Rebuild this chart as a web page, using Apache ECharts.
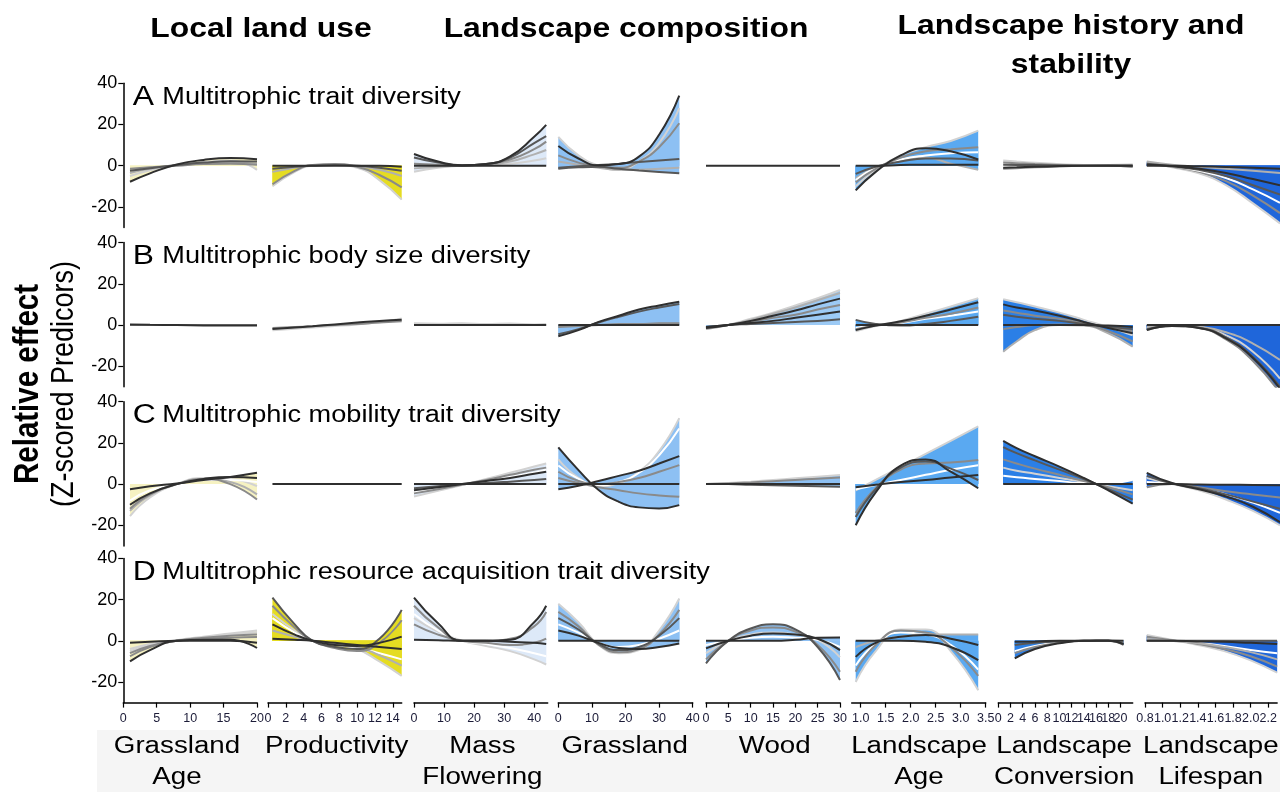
<!DOCTYPE html>
<html><head><meta charset="utf-8">
<script src="https://cdn.jsdelivr.net/npm/echarts@6/dist/echarts.min.js"></script>
<style>html,body{margin:0;padding:0;background:#fff}#c{width:1280px;height:792px}</style>
</head><body><div id="c"></div>
<script>
// ---------- predictor sample positions (x) ----------
const X_GRASS_AGE = [1, 4, 8, 12, 16, 20];
const X_PROD      = [0.5, 3, 5, 7.5, 10, 12.5, 15];
const X_MASSFLOW  = [0, 8, 16, 24, 32, 40, 44];
const X_GRASSLAND = [0, 6, 12, 18, 24, 30, 36];
const X_WOOD      = [0, 5, 10, 15, 20, 25, 30];
const X_LAND_AGE  = [0.9, 1.3, 1.8, 2.3, 2.8, 3.35];
const X_CONV      = [0.8, 3, 6, 10, 14, 18, 22];
const X_CONV_D    = [2.7, 6, 10, 14, 18, 20.5];
const X_LIFESPAN  = [0.82, 1.1, 1.4, 1.7, 2.0, 2.3];

// ---------- tick labels ----------
const T_GRASS_AGE = [0, 5, 10, 15, 20];
const T_PROD      = [0, 2, 4, 6, 8, 10, 12, 14];
const T_MASSFLOW  = [0, 10, 20, 30, 40];
const T_GRASSLAND = [0, 10, 20, 30, 40];
const T_WOOD      = [0, 5, 10, 15, 20, 25, 30];
const T_LAND_AGE  = [1.0, 1.5, 2.0, 2.5, 3.0, 3.5];
const T_CONV      = [0, 2, 4, 6, 8, 10, 12, 14, 16, 18, 20, 22];
const T_LIFESPAN  = [0.8, 1.0, 1.2, 1.4, 1.6, 1.8, 2.0, 2.2];
const T_Y         = [-20, 0, 20, 40];

// ---------- texts ----------
const GROUPS = ['Local land use', 'Landscape composition', 'Landscape history and', 'stability'];
const ROW_LETTERS = ['A', 'B', 'C', 'D'];
const ROW_TITLES = ['Multitrophic trait diversity', 'Multitrophic body size diversity',
  'Multitrophic mobility trait diversity', 'Multitrophic resource acquisition trait diversity'];
const X_NAMES = [['Grassland', 'Age'], ['Productivity'], ['Mass', 'Flowering'], ['Grassland'], ['Wood'],
  ['Landscape', 'Age'], ['Landscape', 'Conversion'], ['Landscape', 'Lifespan']];
const Y_TITLE = 'Relative effect';
const Y_SUB = '(Z-scored Predicors)';

// ---------- relative effect curves (one array per curve) ----------
// Row A: trait diversity
const A1 = [[-5, -2.2, 0.3, 1.8, 2.5, -2.0], [-3.5, -1.5, 0.2, 1.2, 1.5, 1.0], [-1.5, -0.8, 0, 0.8, 1.0, 0.5],
  [-2.5, -1.2, 0.3, 1.5, 2.2, 2.0], [-7.8, -3.7, 0.6, 2.8, 3.7, 3.1]];
const A2 = [[-10, -3, 0, 0.5, -1, -7, -16.5], [-3, -1, 0.2, 0.5, -0.2, -2, -5], [-9, -2.5, 0.3, 0.8, -0.5, -4.5, -10.5],
  [-1.5, -0.5, 0, 0.3, 0, -1, -2.5], [0, 0, 0, 0, 0, 0, -0.5]];
const A3 = [[-2.9, -1, 0, 0.3, 1, 2.5, 3.6], [-1.3, -0.5, 0, 0.5, 2, 5.5, 7.6], [1, 0.5, 0, 0.8, 3, 8, 11.7],
  [4, 1.5, 0.1, 0.8, 4, 11, 14.4], [5.7, 2.0, 0.2, 0.8, 4.5, 14, 19.8], [0, 0, 0, 0, 0, 0, 0]];
const A4 = [[14, 5, 0, -2, 2, 11, 28], [2, 0.5, -1, -2, -2, -1.5, -1], [5, 1.5, -0.5, -1, 2, 9, 20.6],
  [-1, -0.3, 0.3, 1, 1.8, 2.5, 3.2], [-1.5, -0.8, -0.5, -1.5, -2.3, -3, -3.7], [9.6, 3.5, 0.2, 0.8, 4.4, 15, 34]];
const A5 = [[0, 0, 0, 0, 0, 0, 0]];
const A6 = [[-10, -2, 5, 9, 12, 17], [-6, -1, 2.5, 4, 1, -2], [-7, -1, 3, 5, 6, 6.5], [-8, -1.5, 4, 7, 8, 9],
  [-4, -0.5, 2, 3.5, 3.5, 2.5], [0, 0, 0.3, 0.5, 0.5, 0.5], [-12, -3, 5, 8.5, 7, 3]];
const A7 = [[2.5, 2, 1.4, 0.8, 0.3, 0, 0], [1.5, 1.2, 0.8, 0.4, 0.1, 0, -0.5], [-1.5, -1.2, -0.8, -0.4, 0, 0.3, 0.5],
  [0.5, 0.4, 0.3, 0.1, 0, 0, -0.3], [-1, -0.8, -0.5, -0.2, 0, 0, 0]];
const A8 = [[1.5, -0.8, -3.7, -9.4, -18.3, -28], [2, 0.5, -0.5, -1.5, -2.5, -3.5], [1, -0.5, -3, -7.5, -14.5, -23],
  [0.5, -0.3, -2.5, -6, -11.5, -18], [1, -0.3, -2, -5, -9.5, -14], [0.5, -0.2, -1.5, -3.5, -6.5, -9.5],
  [0, 0, -0.3, -0.6, -1, -1.5]];
// Row B: body size diversity
const B1 = [[0, 0, 0, 0, 0, 0], [0.2, 0.1, 0, -0.2, -0.3, -0.3]];
const B2 = [[-2.5, -1.8, -1.2, -0.5, 0.3, 1.3, 3.2], [-1.5, -1, -0.6, 0, 0.5, 1.2, 1.8], [-2, -1.2, -0.6, 0.3, 1.2, 2, 2.6]];
const B3 = [[0.8, 0.6, 0.8, 0.5, 0.7, 0.3, 0.5], [0, 0, 0, 0, 0, 0, 0]];
const B4 = [[-1, -0.5, 0, 0.5, 0.5, 0.8, 0.8], [-4.5, -2, 1.2, 4, 6.5, 8.5, 10.2], [0, 0, 0, 0, 0, 0, 0],
  [-5.5, -2.5, 1.5, 4.5, 7.5, 9.5, 11.3]];
const B5 = [[-2, 0, 3, 6, 9.5, 13, 17], [-2, 0, 2.5, 5.5, 8.5, 12, 15.5], [-1.5, 0, 1.5, 3.5, 5, 7.5, 9.7],
  [-1, 0, 0.5, 1, 1.5, 2, 2.8], [-1.5, 0, 2, 4.5, 7, 10, 12.8], [-1, 0, 1, 2, 3.5, 5, 6.5]];
const B6 = [[-3, -0.5, 2, 5.5, 9, 13], [-1.5, 0, 1, 3, 4.5, 6.5], [-2, -0.3, 1.2, 3.5, 5.5, 8.5],
  [2.5, 0.5, -0.3, 0.5, 2, 4], [-2.5, -0.3, 1.8, 4.5, 7.5, 11], [0, 0, 0, 0, 0, 0]];
const B7 = [[12.5, 11, 9, 6, 2.5, -1, -5], [-13, -8, -2.5, 0, -0.3, -4, -10.5], [7, 6, 4.5, 3, 1, -1, -3],
  [-2, -1, 0, 0.3, 0, -3, -8], [5, 4, 3, 2, 0.5, -0.8, -2], [10, 8.5, 7, 4.5, 1.5, -1.5, -4], [0, 0, 0, 0, 0, -0.3, -1]];
const B8 = [[-1.5, 0, -1, -5, -13, -26], [-1, 0, -0.8, -3.5, -9, -17], [-2.4, -0.5, -1.5, -7, -17.5, -33],
  [-2, -0.3, -1.3, -6, -15.5, -30], [-2.5, -0.5, -1.5, -6.5, -16, -31], [0, 0, 0, 0, 0, 0]];
// Row C: mobility trait diversity
const C1 = [[-15.5, -6.5, 0, 3, 2.5, -1], [-8, -3, 0, 2, 2, 1], [-13, -5.5, 0, 2.5, 1, -5],
  [-12, -5, 0, 2.5, 0, -7.5], [-10, -4.5, 0, 2.5, 3.5, 3], [-2.5, -1, 0.3, 2, 3.5, 5.5]];
const C2 = [[0, 0, 0, 0, 0, 0, 0]];
const C3 = [[-6, -3.3, -0.5, 2.5, 5.5, 8.5, 10], [-4, -2, -0.2, 1.5, 3.5, 5.5, 7], [-4.5, -2.5, -0.3, 2, 4.5, 7, 8],
  [-2, -1, 0, 0.5, 1.2, 2, 2.5], [-3, -1.5, 0, 1.5, 3, 5, 6], [0, 0, 0, 0, 0, 0, 0]];
const C4 = [[12, 3, -1, 0.5, 6, 16, 32], [9, 2.5, -0.5, 1, 5.5, 14, 27], [6, 1.5, 0, 1, 3, 6, 9.2],
  [3, 0.5, -1.5, -3, -4.5, -5.5, -6.2], [-2.5, -0.8, 1.5, 4, 6.5, 10, 13.6], [0, 0, 0, 0, 0, 0, 0],
  [17.8, 6.8, -2.9, -8.6, -11.3, -11.8, -10.2]];
const C5 = [[0, 0.5, 1.2, 2, 2.8, 3.6, 4.4], [0, 0.3, 0.8, 1.4, 2, 2.6, 3.2], [0, 0, -0.3, -0.5, -0.8, -1, -1.3],
  [0, 0, 0, 0, 0, 0, 0]];
const C6 = [[-3, 2, 8.4, 14.7, 21, 28], [-2.5, -0.5, 2, 4.5, 7, 9.2], [-14, -2, 7, 10, 10.5, 11.7],
  [-16, -2.5, 8, 11, 7.5, 2], [-1.5, -0.3, 1, 2, 3.2, 4.4], [-20, -4, 9, 12, 6, -2]];
const C7 = [[8, 6.5, 5, 3, 1, -1, -3], [4, 3.3, 2.5, 1.5, 0.5, 0.5, 2], [12, 10, 7.5, 4.5, 1.5, -1.5, -5],
  [18, 15, 11.5, 7, 2.5, -2.5, -7.5], [21, 17.5, 13.5, 8.5, 3, -3, -9.5], [0, 0, 0, 0, 0, 0, 0]];
const C8 = [[3, 0, -3, -7.5, -13, -20], [1, 0, -2, -5, -9, -14], [-1.5, 0, -1.5, -3.5, -5, -6.5],
  [4, 0.3, -2, -5, -8.5, -12], [5.5, 0.5, -2.5, -6, -11, -18.5], [0, 0, -0.2, -0.3, -0.4, -0.5]];
// Row D: resource acquisition trait diversity
const D1 = [[-5, -2, 0.3, 2, 3.5, 5], [-4, -1.5, 0.2, 1.5, 3, 4], [-7.5, -3, 0, 1.5, 2.5, 3],
  [-6, -2.5, 0, 1, 1.5, 1.8], [-1, -0.5, 0, 0, 0, -1], [-10, -4.5, 0, 0.5, 0.5, -3.5]];
const D2 = [[13, 5, 0, -1.5, -4, -10, -17], [11, 4, 0, -2, -3.5, -6, -9], [5, 2, 0, -1.5, -3, -7, -12],
  [17, 6.5, 0, -3.5, -5, -1, 10], [21, 8, 0, -3, -4, 1, 15], [1, 0.5, 0, -1, -2, -3, -4], [8, 3, 0, -2, -2.5, -1, 2]];
const D3 = [[11, 4.5, 0, -2.5, -5, -9, -11.5], [13, 5, 0, -1.5, -3.5, -6, -7.5], [8, 3, 0, -1, -2, -1, 1],
  [17, 6.5, 0, 0, 1, 7, 14], [0.5, 0.3, 0, 0, -0.5, -1, -1.5], [21, 8.5, 0, 0, 0.5, 9, 17]];
const D4 = [[18, 9, -2, -6, -4.5, 5, 20.5], [8, 4, -1, -3, -2, 1, 5], [14, 7, -2, -5.5, -4, 3, 15],
  [11, 5.5, -1.5, -4.5, -3, 2.5, 11], [0, 0, 0, 0, 0, 0, 0], [5, 2.5, -1, -3.5, -4, -3, -1.3]];
const D5 = [[-6, 0, 3, 4, 3, 0.5, -8], [-2, 0, 1.5, 2, 1.5, 0.5, -3], [-9, 0, 5, 6.5, 4.5, -2, -15],
  [-11, 0, 6, 8, 5.5, -3, -19], [0, 0, 0, 0, 0.5, 1.5, 1.6], [-3.7, 0, 2.5, 3.5, 3, 1, -4.5]];
const D6 = [[-20, -5, 5.5, 5.5, -5, -24], [-12, -1.5, 4, 3, -2, -14], [-15, -2, 5, 4, -3, -17],
  [-3, 0, 2, 3, 3, 3], [0, 0, 0, -0.5, -3, -9.4], [-7.8, -1, 2, 2.8, 1, -2]];
const D7 = [[-5, -2.5, -0.8, 0, 0, -0.5], [-6, -3, -1, 0, 0, -1], [-2, -1, -0.3, 0, 0, -2],
  [-0.5, -0.3, 0, 0, 0.2, 0], [-8.5, -4, -1.2, 0, 0, -1.5]];
const D8 = [[2.8, 0.5, -2, -5, -9.5, -15.5], [0.5, 0, -1, -2.5, -4.5, -6], [2, 0.3, -1.5, -4, -7.5, -12.5],
  [1, 0, -1.2, -3, -5.5, -9], [0, 0, 0, 0, 0, 0], [0, 0, -0.3, -0.5, -1, -1.5]];

// ---------- styles (kept apart from the data) ----------
const TONE = {k: '#2f2f2f', d: '#575757', g: '#8a8a8a', l: '#b0b0b0', L: '#d2d2d2', w: '#ffffff'};
const TONES = [
  ['Llgdk', 'Llgdk', 'Llgdkk', 'Llgddk', 'k', 'Llwgdkk', 'Lggdk', 'Llgwdkk'],
  ['gk', 'Lgk', 'Lk', 'gdkk', 'Llgdkk', 'Lwgdkk', 'Llggdkk', 'Llgdkk'],
  ['Lwlgkk', 'k', 'Lwgdkk', 'Lwggkkk', 'Lgdk', 'Lwgdkk', 'Lwgdkk', 'Lwgdkk'],
  ['LLggkk', 'Lwlgdkk', 'Lwggkk', 'Lwgdkk', 'Lwgdkk', 'Lwglkk', 'wgdkk', 'Lwgldk']
];
const PY = '#f6f2c2', YE = '#e5dc22', PB = '#dde9f8', MB = '#8dc0f3', BL = '#5aa9f1', SB = '#2b7fe6', DB = '#1f66da';
const FILLS = [
  [PY, YE, PB, MB, null, BL, null, DB],
  [null, null, PB, MB, '#9ccaf5', BL, SB, DB],
  [PY, null, PB, MB, MB, BL, SB, DB],
  [PY, YE, PB, MB, MB, BL, SB, DB]
];

// ---------- layout ----------
const COLS = [
  {l: 123.3, r: 257, min: 0, max: 20, xs: X_GRASS_AGE, t: T_GRASS_AGE, dec: 0},
  {l: 268, r: 401.7, min: 0, max: 15, xs: X_PROD, t: T_PROD, dec: 0},
  {l: 414, r: 547.7, min: 0, max: 44.5, xs: X_MASSFLOW, t: T_MASSFLOW, dec: 0},
  {l: 558.3, r: 692.7, min: 0, max: 40, xs: X_GRASSLAND, t: T_GRASSLAND, dec: 0},
  {l: 706, r: 840, min: 0, max: 30, xs: X_WOOD, t: T_WOOD, dec: 0},
  {l: 851.7, r: 985.7, min: 0.82, max: 3.5, xs: X_LAND_AGE, t: T_LAND_AGE, dec: 1},
  {l: 998.3, r: 1132.7, min: 0, max: 22, xs: X_CONV, t: T_CONV, dec: 0},
  {l: 1145, r: 1280, min: 0.8, max: 2.3, xs: X_LIFESPAN, t: T_LIFESPAN, dec: 1}
];
const ROW_TOP = [83.3, 242.6, 401.7, 558.4];
const GRID_H = 144.2;
const PANELS = [[A1, A2, A3, A4, A5, A6, A7, A8], [B1, B2, B3, B4, B5, B6, B7, B8],
  [C1, C2, C3, C4, C5, C6, C7, C8], [D1, D2, D3, D4, D5, D6, D7, D8]];
const X_OVERRIDE = {'3-6': X_CONV_D};

const FONT = '"Liberation Sans", Arial, sans-serif';
const SX = 1.18;

const grids = [], xAxes = [], yAxes = [], series = [];
PANELS.forEach((row, r) => {
  row.forEach((curves, c) => {
    const col = COLS[c];
    const g = grids.length;
    grids.push({left: col.l, top: ROW_TOP[r], width: col.r - col.l, height: GRID_H, containLabel: false});
    const lastRow = r === 3;
    xAxes.push({
      gridIndex: g, type: 'value', min: col.min, max: col.max, show: lastRow,
      axisLine: {show: true, onZero: false, lineStyle: {color: '#000', width: 1.5}},
      axisTick: {show: true, length: 5, customValues: col.t, lineStyle: {color: '#000', width: 1.2}},
      axisLabel: {customValues: col.t, fontSize: 12.5, fontFamily: FONT, color: '#1c1c38', margin: 9,
        formatter: v => col.dec ? Number(v).toFixed(col.dec) : String(v)},
      splitLine: {show: false}
    });
    yAxes.push({
      gridIndex: g, type: 'value', min: -30, max: 40, show: c === 0,
      axisLine: {show: true, onZero: false, lineStyle: {color: '#000', width: 1.5}},
      axisTick: {show: true, length: 5, customValues: T_Y, lineStyle: {color: '#000', width: 1.2}},
      axisLabel: {customValues: T_Y, fontSize: 18, fontFamily: FONT, color: '#000', margin: 6},
      splitLine: {show: false}
    });
    const xs = X_OVERRIDE[r + '-' + c] || col.xs;
    const fill = FILLS[r][c];
    const tones = TONES[r][c];
    const mk = cv => xs.map((x, i) => [x, cv[i]]);
    if (fill) {
      curves.forEach(cv => series.push({
        type: 'line', xAxisIndex: g, yAxisIndex: g, data: mk(cv), smooth: true, symbol: 'none',
        silent: true, z: 1, lineStyle: {width: 0, opacity: 0}, areaStyle: {color: fill, opacity: 1}
      }));
    }
    curves.forEach((cv, k) => series.push({
      type: 'line', xAxisIndex: g, yAxisIndex: g, data: mk(cv), smooth: true, symbol: 'none',
      silent: true, z: 2, lineStyle: {width: 2, color: TONE[tones[k]] || '#2f2f2f'}
    }));
  });
});

const txt = (text, x, y, size, o = {}) => ({
  type: 'text', x, y, z: 50, scaleX: o.sx ?? SX, scaleY: o.sy ?? 1, rotation: o.rot || 0,
  style: {text, fontSize: size, fontFamily: FONT, fontWeight: o.bold ? 'bold' : 'normal', fill: '#000',
    align: o.align || 'center', verticalAlign: 'middle'}
});

const graphics = [
  {type: 'rect', z: -10, shape: {x: 97, y: 730, width: 1183, height: 62}, style: {fill: '#f5f5f5'}},
  txt(GROUPS[0], 261, 30, 27, {bold: true}),
  txt(GROUPS[1], 626, 30, 27, {bold: true}),
  txt(GROUPS[2], 1071, 27, 27, {bold: true}),
  txt(GROUPS[3], 1071, 66, 27, {bold: true}),
  txt(Y_TITLE, 28, 384, 29.5, {bold: true, rot: Math.PI / 2, sx: 1, sy: SX}),
  txt(Y_SUB, 64, 384, 27, {rot: Math.PI / 2, sx: 1, sy: SX})
];
ROW_LETTERS.forEach((L, r) => {
  const y = ROW_TOP[r] + 14;
  graphics.push(txt(L, 132.7, y, 27, {align: 'left'}));
  graphics.push(txt(ROW_TITLES[r], 162.3, y, 23, {align: 'left'}));
});
const X_CENTERS = [177, 336.7, 482.4, 624.7, 774.7, 919, 1064.2, 1210.8];
X_NAMES.forEach((lines, c) => {
  lines.forEach((s, i) => graphics.push(txt(s, X_CENTERS[c], 747 + i * 31, 23.5)));
});

const chart = echarts.init(document.getElementById('c'), null, {renderer: 'canvas'});
chart.setOption({
  animation: false,
  backgroundColor: '#fff',
  grid: grids, xAxis: xAxes, yAxis: yAxes, series,
  graphic: {elements: graphics}
});
</script>
</body></html>
